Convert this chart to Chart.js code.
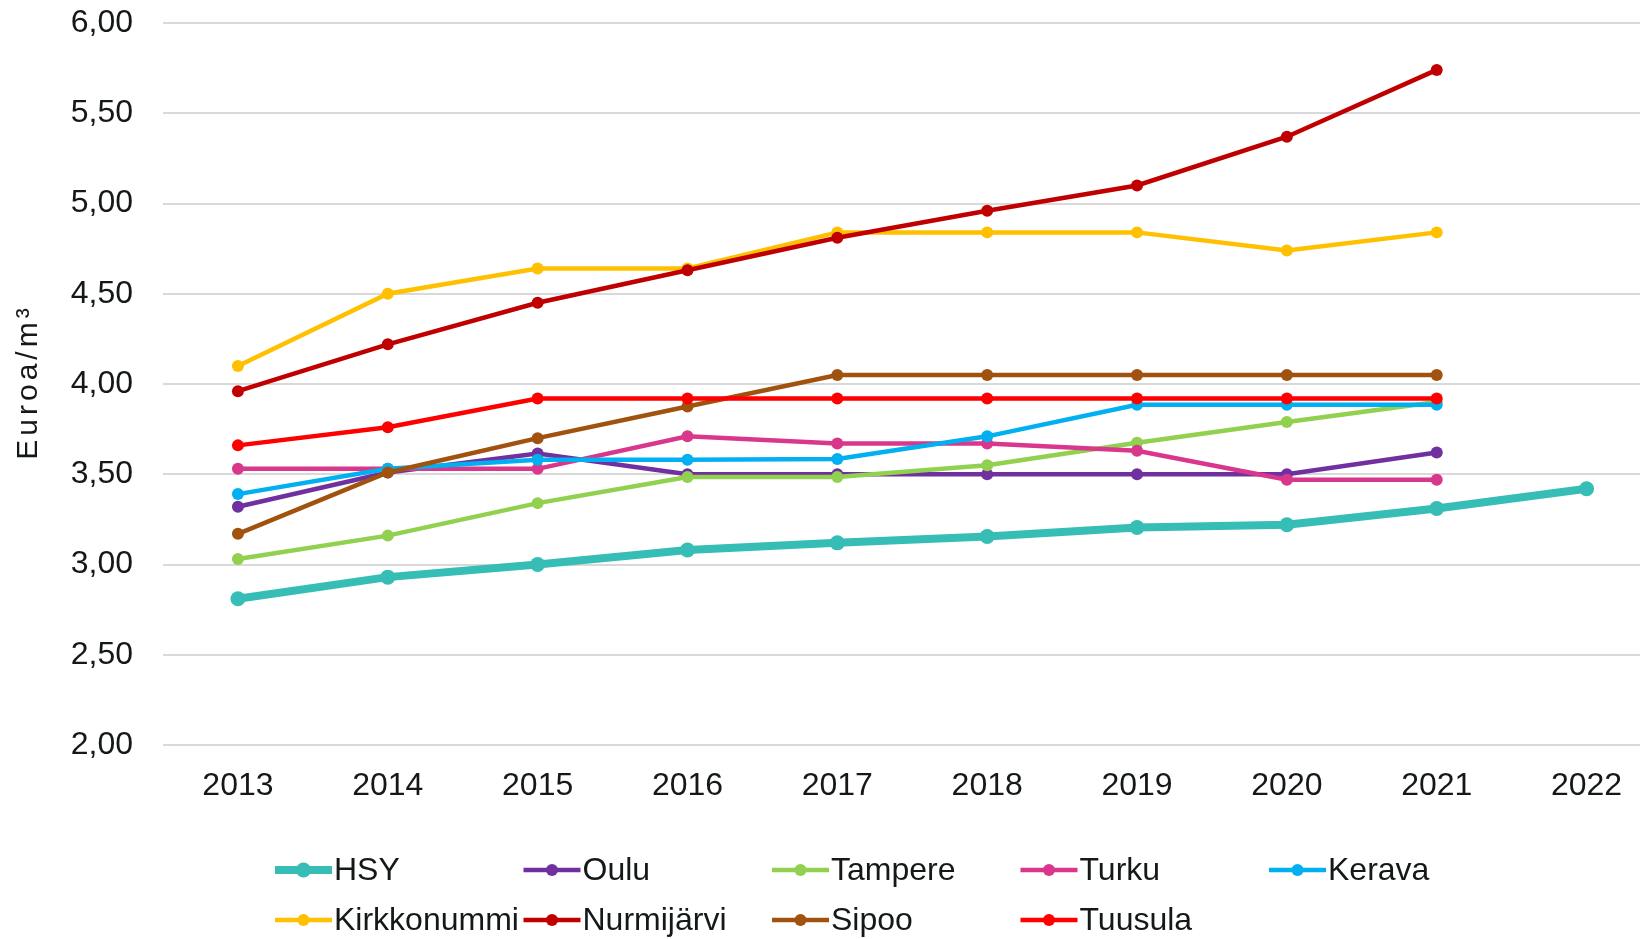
<!DOCTYPE html>
<html>
<head>
<meta charset="utf-8">
<script src="https://cdn.jsdelivr.net/npm/chart.js@4"></script>
<style>
	html, body { margin: 0; padding: 0; background: #fff; overflow: hidden; }
	.wrap { width: 1640px; height: 939px; overflow: hidden; }
</style>
</head>
<body>
<div class="wrap"><canvas id="myChart" width="1669" height="939"></canvas></div>
<script>
const years = ['2013', '2014', '2015', '2016', '2017', '2018', '2019', '2020', '2021', '2022'];
const yTicks = [2.0, 2.5, 3.0, 3.5, 4.0, 4.5, 5.0, 5.5, 6.0];

const hsy = [2.81, 2.93, 3.00, 3.08, 3.12, 3.155, 3.205, 3.22, 3.31, 3.42];
const oulu = [3.32, 3.51, 3.615, 3.50, 3.50, 3.50, 3.50, 3.50, 3.62, null];
const tampere = [3.03, 3.16, 3.34, 3.485, 3.485, 3.55, 3.675, 3.79, 3.90, null];
const turku = [3.53, 3.53, 3.53, 3.71, 3.67, 3.67, 3.63, 3.47, 3.47, null];
const kerava = [3.39, 3.53, 3.58, 3.58, 3.585, 3.71, 3.885, 3.885, 3.885, null];
const kirkkonummi = [4.10, 4.50, 4.64, 4.64, 4.84, 4.84, 4.84, 4.74, 4.84, null];
const nurmijarvi = [3.96, 4.22, 4.45, 4.63, 4.81, 4.96, 5.10, 5.37, 5.74, null];
const sipoo = [3.17, 3.51, 3.70, 3.875, 4.05, 4.05, 4.05, 4.05, 4.05, null];
const tuusula = [3.66, 3.76, 3.92, 3.92, 3.92, 3.92, 3.92, 3.92, 3.92, null];

const textColor = '#141818';
const font = 'Liberation Sans, Arial, sans-serif';

function series(label, data, color, width, radius, i) {
	return {
		label: label,
		data: data,
		borderColor: color,
		backgroundColor: color,
		pointBackgroundColor: color,
		pointBorderWidth: 0,
		pointRadius: radius,
		borderWidth: width,
		tension: 0,
		order: -i,
	};
}

const datasets = [
	series('HSY', hsy, '#36bdb5', 8, 7.5, 0),
	series('Oulu', oulu, '#7030a0', 4.5, 6, 1),
	series('Tampere', tampere, '#92d050', 4.5, 6, 2),
	series('Turku', turku, '#d9378c', 4.5, 6, 3),
	series('Kerava', kerava, '#00b0f0', 4.5, 6, 4),
	series('Kirkkonummi', kirkkonummi, '#ffc000', 4.5, 6, 5),
	series('Nurmijärvi', nurmijarvi, '#c00000', 4.5, 6, 6),
	series('Sipoo', sipoo, '#a0520e', 4.5, 6, 7),
	series('Tuusula', tuusula, '#ff0000', 4.5, 6, 8),
];

// legend in a grid + spaced y title, like the original
const extras = {
	id: 'extras',
	afterDraw(chart) {
		const c = chart.ctx;
		c.save();
		chart.data.datasets.forEach((ds, i) => {
			const x = 275 + (i % 5) * 248.5;
			const y = 870 + Math.floor(i / 5) * 50;
			c.strokeStyle = ds.borderColor;
			c.lineWidth = ds.borderWidth;
			c.beginPath();
			c.moveTo(x, y);
			c.lineTo(x + 57, y);
			c.stroke();
			c.fillStyle = ds.borderColor;
			c.beginPath();
			c.arc(x + 28.5, y, ds.pointRadius, 0, Math.PI * 2);
			c.fill();
			c.fillStyle = textColor;
			c.font = '32px ' + font;
			c.textBaseline = 'middle';
			c.textAlign = 'left';
			c.fillText(ds.label, x + 59, y + 1);
		});
		c.translate(29, 382);
		c.rotate(-Math.PI / 2);
		c.font = '30px ' + font;
		c.letterSpacing = '4px';
		c.textAlign = 'center';
		c.textBaseline = 'middle';
		c.fillStyle = textColor;
		c.fillText('Euroa/m³', 0, 0);
		c.restore();
	}
};

const ctx = document.getElementById('myChart');

new Chart(ctx, {
	type: 'line',
	data: {
		labels: years,
		datasets: datasets,
	},
	plugins: [extras],
	options: {
		responsive: false,
		animation: false,
		layout: {
			padding: { top: 23, bottom: 120, left: 0, right: 0 }
		},
		plugins: {
			legend: { display: false },
			tooltip: { enabled: false }
		},
		scales: {
			x: {
				offset: true,
				afterFit: (s) => { s.height = 74; s.paddingLeft = 0; s.paddingRight = 0; },
				grid: { display: false },
				border: { display: false },
				ticks: {
					color: textColor,
					font: { family: font, size: 32 },
					padding: 14,
					maxRotation: 0,
				}
			},
			y: {
				min: 2,
				max: 6,
				afterFit: (s) => { s.width = 163; s.paddingTop = 0; s.paddingBottom = 0; },
				afterBuildTicks: (s) => { s.ticks = yTicks.map(v => ({ value: v })); },
				grid: { color: '#d9d9d9', lineWidth: 2, drawTicks: false },
				border: { display: false },
				ticks: {
					color: textColor,
					font: { family: font, size: 32 },
					padding: 30,
					callback: (v) => v.toFixed(2).replace('.', ',')
				}
			}
		}
	}
});
</script>
</body>
</html>
